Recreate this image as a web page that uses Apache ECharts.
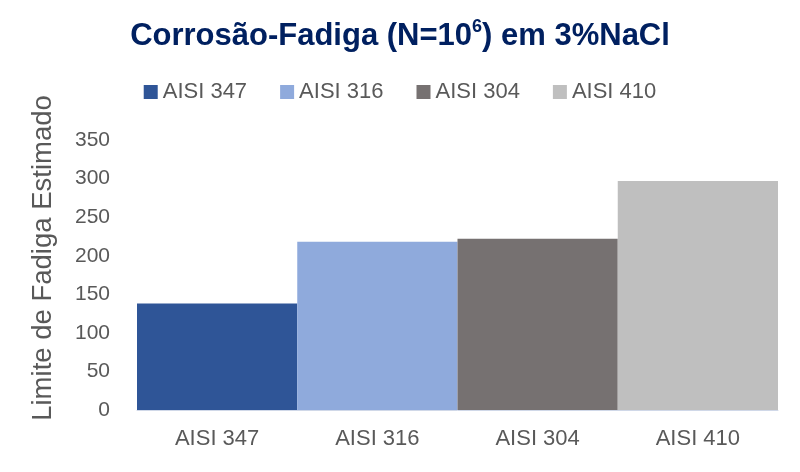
<!DOCTYPE html>
<html>
<head>
<meta charset="utf-8">
<script src="https://cdn.jsdelivr.net/npm/echarts@6/dist/echarts.min.js"></script>
<style>html,body{margin:0;padding:0;background:#fff}#c{width:800px;height:472px}</style>
</head>
<body>
<div id="c"></div>
<script>
const categories = ['AISI 347', 'AISI 316', 'AISI 304', 'AISI 410'];
const seriesNames = ['AISI 347', 'AISI 316', 'AISI 304', 'AISI 410'];
const values = [138, 218, 222, 297];
const colors = ['#2F5597', '#8FAADC', '#767171', '#BFBFBF'];
const yTicks = [0, 50, 100, 150, 200, 250, 300, 350];

const chart = echarts.init(document.getElementById('c'), null, {renderer: 'canvas'});
const series = seriesNames.map((name, i) => ({
  name: name,
  type: 'bar',
  stack: 'all',
  barCategoryGap: '0%',
  itemStyle: {color: colors[i]},
  data: categories.map((c, j) => j === i ? values[i] : null)
}));
chart.setOption({
  animation: false,
  title: {
    text: '{a|Corrosão-Fadiga (N=10}{s|6}{a|) em 3%NaCl}',
    left: 'center',
    top: 13,
    textStyle: {
      rich: {
        a: {fontFamily: 'Liberation Sans', fontWeight: 'bold', fontSize: 31, color: '#002060', lineHeight: 36},
        s: {fontFamily: 'Liberation Sans', fontWeight: 'bold', fontSize: 18, color: '#002060', verticalAlign: 'top', lineHeight: 36, padding: [0, 0, 9, 0]}
      }
    }
  },
  legend: {
    data: seriesNames,
    top: 76,
    left: 'center',
    itemWidth: 14,
    itemHeight: 14,
    itemGap: 33,
    icon: 'rect',
    textStyle: {fontFamily: 'Liberation Sans', fontSize: 22, color: '#595959'}
  },
  grid: {left: 137, right: 22, top: 140, bottom: 62},
  xAxis: {
    type: 'category',
    data: categories,
    axisLine: {lineStyle: {color: '#D0D8E8', width: 1}},
    axisTick: {show: false},
    axisLabel: {fontFamily: 'Liberation Sans', fontSize: 22, color: '#595959', margin: 18}
  },
  yAxis: {
    type: 'value',
    min: yTicks[0],
    max: yTicks[yTicks.length - 1],
    interval: 50,
    name: 'Limite de Fadiga Estimado',
    nameLocation: 'middle',
    nameGap: 80,
    nameTextStyle: {fontFamily: 'Liberation Sans', fontSize: 27.5, color: '#595959', padding: [0, 0, 0, 34]},
    splitLine: {show: false},
    axisLine: {show: false},
    axisTick: {show: false},
    axisLabel: {fontFamily: 'Liberation Sans', fontSize: 21, color: '#595959', margin: 27}
  },
  series: series
});
</script>
</body>
</html>
